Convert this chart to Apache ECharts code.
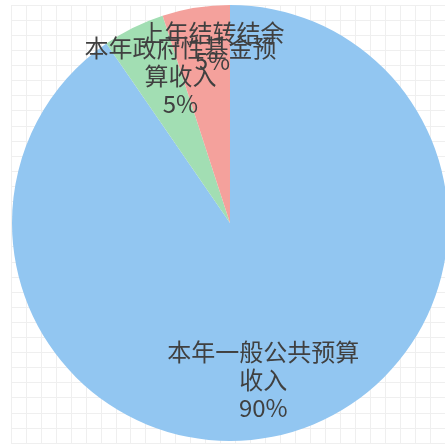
<!DOCTYPE html>
<html>
<head>
<meta charset="utf-8">
<script src="https://cdn.jsdelivr.net/npm/echarts@6/dist/echarts.min.js"></script>
<style>html,body{margin:0;padding:0;background:#fff;}#c{width:445px;height:446px;}</style>
</head>
<body>
<div id="c"></div>
<script>
const categories = ['本年一般公共预算收入', '本年政府性基金预算收入', '上年结转结余'];
const values = [90.4, 4.6, 5.0];
const colors = ['#92c6f1', '#a2deb3', '#f4a19c'];

const CX = 230, CY = 223, R = 218, LH = 28;
const chart = echarts.init(document.getElementById('c'), null, {renderer: 'canvas'});
chart.setOption({
  animation: false,
  backgroundColor: '#ffffff',
  grid: {left: 11, top: 5, width: 435, height: 438, containLabel: false},
  xAxis: {type: 'value', min: 0, max: 29, interval: 1, silent: true,
    axisLine: {show: false}, axisTick: {show: false}, axisLabel: {show: false},
    splitLine: {show: true, lineStyle: {color: '#efefef', width: 1}}},
  yAxis: {type: 'value', min: 0, max: 29, interval: 1, inverse: true, silent: true,
    axisLine: {show: false}, axisTick: {show: false}, axisLabel: {show: false},
    splitLine: {show: true, lineStyle: {color: '#efefef', width: 1}}},
  series: [{
    type: 'pie',
    center: [CX, CY],
    radius: [0, R],
    startAngle: 90,
    clockwise: true,
    silent: true,
    itemStyle: {borderWidth: 0},
    label: {
      show: true,
      position: 'inside',
      color: '#404040',
      fontSize: 24,
      lineHeight: LH,
      fontFamily: '"Noto Sans CJK SC", "Microsoft YaHei", sans-serif',
      width: 196,
      overflow: 'break',
      formatter: p => p.name + '\n' + Math.round(p.percent) + '%'
    },
    labelLine: {show: false},
    labelLayout: function (p) {
      const r = p.labelRect;
      const lx = r.x + r.width / 2;
      const ly = r.y + r.height / 2;
      return {x: lx, y: CY + (ly - CY) * 1.47 - 1.5 * LH, align: 'center', verticalAlign: 'top'};
    },
    data: categories.map((n, i) => ({name: n, value: values[i], itemStyle: {color: colors[i]}}))
  }]
});
</script>
</body>
</html>
